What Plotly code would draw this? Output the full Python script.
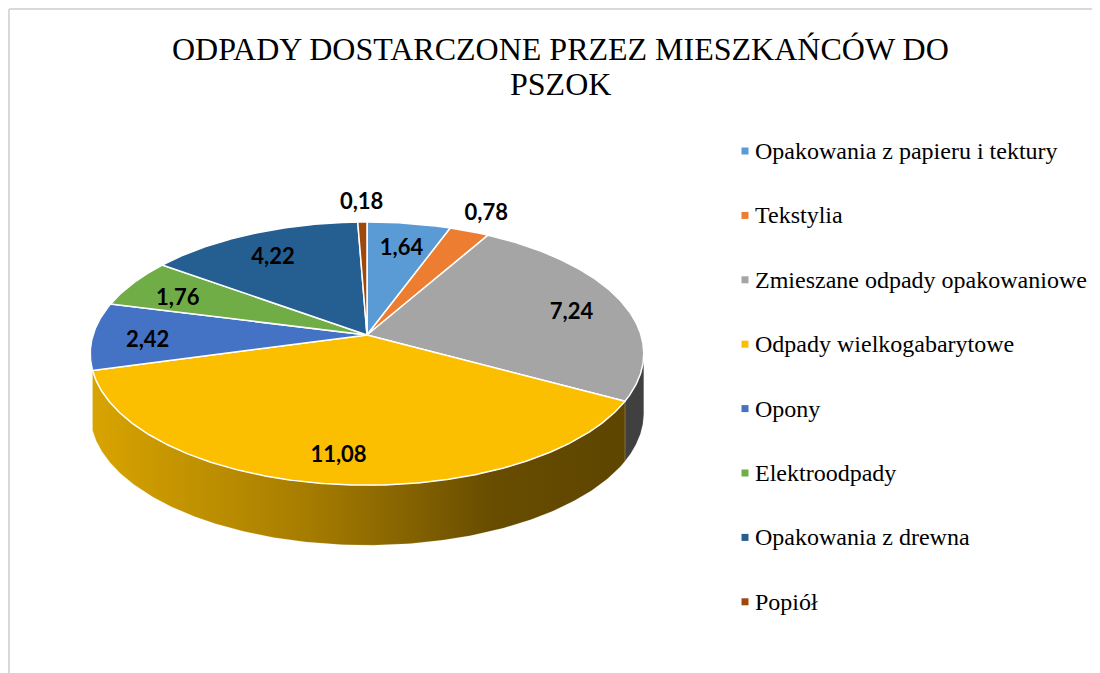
import math
import numpy as np
import plotly.graph_objects as go

# ---------------- data ----------------
categories = [
    "Opakowania z papieru i tektury",
    "Tekstylia",
    "Zmieszane odpady opakowaniowe",
    "Odpady wielkogabarytowe",
    "Opony",
    "Elektroodpady",
    "Opakowania z drewna",
    "Popiół",
]
values = [1.64, 0.78, 7.24, 11.08, 2.42, 1.76, 4.22, 0.18]
value_labels = ["1,64", "0,78", "7,24", "11,08", "2,42", "1,76", "4,22", "0,18"]
title_lines = ["ODPADY DOSTARCZONE PRZEZ MIESZKAŃCÓW DO", "PSZOK"]

# ---------------- style ----------------
colors = ["#5B9BD5", "#ED7D31", "#A5A5A5", "#FCBF00", "#4472C4", "#70AD47", "#255E91", "#9E480E"]
# side wall style per slice ("grad" = golden gradient, None = not drawn)
side_colors = [None, None, "#404040", "grad", None, None, None, None]
label_outside = [False, True, False, False, False, False, False, True]

OFF = 8                       # page body margin
W, H = 1100 - OFF, 673 - OFF  # figure size
CX, CY = 367, 335             # projected pie centre (page pixels)
A, B = 274, 129               # horizontal / vertical radii
P = 0.141                     # perspective factor
DEPTH = 60                    # thickness of the pie
LABEL_DY = 6                  # label vertical nudge (inside labels)


def proj(theta_deg, r=1.0, dz=0.0):
    t = np.radians(theta_deg)
    u = r * np.sin(t)
    v = r * np.cos(t)
    s = 1.0 / (1.0 + P * v)
    return CX + A * u * s, CY - B * v * s + dz


total = sum(values)
bounds = [0.0]
for val in values:
    bounds.append(bounds[-1] + val / total * 360.0)

th = np.linspace(0, 360, 3601)
xr, _ = proj(th)
th_right = th[np.argmax(xr)]
th_left = th[np.argmin(xr)]

fig = go.Figure()

# ---- side walls ----
for i, (a0, a1) in enumerate(zip(bounds[:-1], bounds[1:])):
    if side_colors[i] is None:
        continue
    lo, hi = max(a0, th_right), min(a1, th_left)
    if hi <= lo:
        continue
    t = np.linspace(lo, hi, 200)
    xt, yt = proj(t)
    xb, yb = proj(t[::-1], 1.0, DEPTH)
    xs = np.concatenate([xt, xb, xt[:1]])
    ys = np.concatenate([yt, yb, yt[:1]])
    if side_colors[i] == "grad":
        fig.add_trace(go.Scatter(
            x=xs, y=ys, mode="lines", fill="toself",
            line=dict(width=0.5, color="rgba(255,255,255,0.3)"),
            fillgradient=dict(type="horizontal",
                              colorscale=[[0, "#D8A400"], [0.4, "#A77D00"],
                                          [0.75, "#684D00"], [1, "#5E4500"]]),
            hoverinfo="skip", showlegend=False))
    else:
        fig.add_trace(go.Scatter(
            x=xs, y=ys, mode="lines", fill="toself", fillcolor=side_colors[i],
            line=dict(width=0.5, color="rgba(255,255,255,0.3)"),
            hoverinfo="skip", showlegend=False))

# ---- top faces ----
for i, (a0, a1) in enumerate(zip(bounds[:-1], bounds[1:])):
    t = np.linspace(a0, a1, max(10, int((a1 - a0) * 3)))
    xt, yt = proj(t)
    xs = np.concatenate([[CX], xt, [CX]])
    ys = np.concatenate([[CY], yt, [CY]])
    fig.add_trace(go.Scatter(
        x=xs, y=ys, mode="lines", fill="toself", fillcolor=colors[i],
        line=dict(width=1.5, color="white"),
        hoverinfo="skip", showlegend=False))

# ---- data labels ----
lx, ly = [], []
for i, (a0, a1) in enumerate(zip(bounds[:-1], bounds[1:])):
    mid = (a0 + a1) / 2
    r = 1.19 if label_outside[i] else 0.8
    x, y = proj(mid, r)
    lx.append(float(x))
    ly.append(float(y) + (0 if label_outside[i] else LABEL_DY))
fig.add_trace(go.Scatter(
    x=lx, y=ly, mode="text", text=value_labels,
    textfont=dict(family="Lato", size=22, color="black", weight="bold"),
    hoverinfo="skip", showlegend=False))

# ---- legend (manual) ----
LEG_X, LEG_Y0, LEG_STEP = 745, 151, 64.4
leg_y = [LEG_Y0 + k * LEG_STEP for k in range(len(categories))]
fig.add_trace(go.Scatter(
    x=[LEG_X] * len(categories), y=leg_y, mode="markers",
    marker=dict(symbol="square", size=7, color=colors),
    hoverinfo="skip", showlegend=False))
annotations = []
for k, cat in enumerate(categories):
    annotations.append(dict(
        x=LEG_X + 8, y=leg_y[k], xref="x", yref="y", text=cat, showarrow=False,
        xanchor="left", yanchor="middle",
        font=dict(family="Liberation Serif", size=24, color="black")))

# ---- title ----
annotations.append(dict(x=560, y=49, xref="x", yref="y", text=title_lines[0],
                        showarrow=False, xanchor="center", yanchor="middle",
                        font=dict(family="Liberation Serif", size=32, color="black")))
annotations.append(dict(x=560, y=84, xref="x", yref="y", text=title_lines[1],
                        showarrow=False, xanchor="center", yanchor="middle",
                        font=dict(family="Liberation Serif", size=32, color="black")))

fig.update_layout(
    width=W, height=H,
    margin=dict(l=0, r=0, t=0, b=0),
    paper_bgcolor="white", plot_bgcolor="white",
    xaxis=dict(range=[OFF, OFF + W], visible=False, fixedrange=True),
    yaxis=dict(range=[OFF + H, OFF], visible=False, fixedrange=True),
    annotations=annotations,
    shapes=[
        dict(type="line", xref="x", yref="y", x0=9, y0=9, x1=OFF + W, y1=9,
             line=dict(color="#D9D9D9", width=2)),
        dict(type="line", xref="x", yref="y", x0=9, y0=9, x1=9, y1=OFF + H,
             line=dict(color="#D9D9D9", width=2)),
    ],
    showlegend=False,
)

fig.write_html("out.html")
